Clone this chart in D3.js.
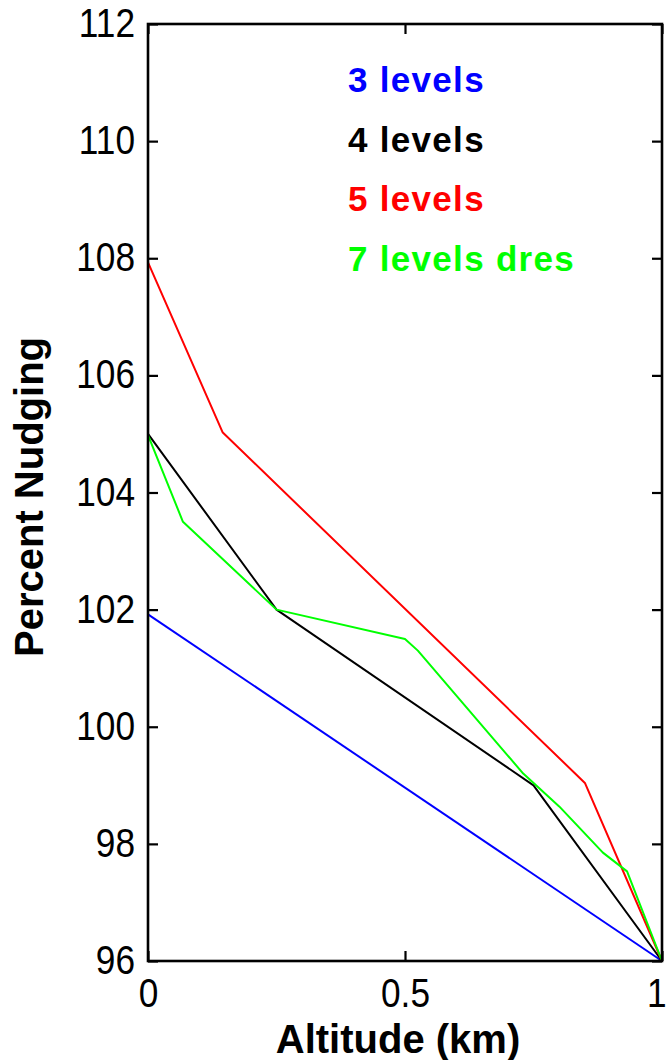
<!DOCTYPE html>
<html>
<head>
<meta charset="utf-8">
<script src="https://cdn.jsdelivr.net/npm/d3@7"></script>
<style>
  html, body { margin: 0; padding: 0; background: #fff; }
  svg { display: block; }
</style>
</head>
<body>
<svg id="chart" width="667" height="1060"></svg>
<script>
// Altitude (km) along x, percent nudging along y, one polyline per setup
const seriesNames = ["3 levels", "4 levels", "5 levels", "7 levels dres"];
const seriesColors = ["#0000ff", "#000000", "#ff0000", "#00ff00"];

const alt3 = [0, 1];
const nudge3 = [101.92, 96];

const alt4 = [0, 0.25, 0.75, 1];
const nudge4 = [105, 102, 99, 96];

const alt5 = [0, 0.145, 0.85, 1];
const nudge5 = [107.93, 105.03, 99.04, 96];

const alt7 = [0, 0.068, 0.25, 0.5, 0.525, 0.73, 0.8, 0.885, 0.932, 1];
const nudge7 = [104.98, 103.5, 102, 101.5, 101.3, 99.2, 98.64, 97.85, 97.53, 96];

const xTicks = [0, 0.5, 1];
const xTickLabels = ["0", "0.5", "1"];
const yTicks = [96, 98, 100, 102, 104, 106, 108, 110, 112];

const xLabel = "Altitude (km)";
const yLabel = "Percent Nudging";

const series = [
  { name: seriesNames[0], color: seriesColors[0], xs: alt3, ys: nudge3 },
  { name: seriesNames[1], color: seriesColors[1], xs: alt4, ys: nudge4 },
  { name: seriesNames[2], color: seriesColors[2], xs: alt5, ys: nudge5 },
  { name: seriesNames[3], color: seriesColors[3], xs: alt7, ys: nudge7 }
];

const svg = d3.select("#chart");
const plotLeft = 148, plotRight = 662, plotTop = 24, plotBottom = 961;

const x = d3.scaleLinear().domain([0, 1]).range([plotLeft, plotRight]);
const y = d3.scaleLinear().domain([96, 112]).range([plotBottom, plotTop]);

const tickFont = "'Liberation Sans', Arial, sans-serif";
const boldFont = "'Liberation Sans', Arial, sans-serif";
const squeeze = 0.86; // tick numerals are set slightly condensed

// data lines, drawn first so the frame sits on top
const line = d3.line().x(d => x(d[0])).y(d => y(d[1]));
svg.append("g")
  .selectAll("path")
  .data(series)
  .join("path")
  .attr("d", s => line(s.xs.map((v, i) => [v, s.ys[i]])))
  .attr("fill", "none")
  .attr("stroke", s => s.color)
  .attr("stroke-width", 2)
  .attr("stroke-linejoin", "round");

// axes with inward ticks on all four sides
const tickLen = 10;
function styleAxis(g) {
  g.select(".domain").remove();
  g.selectAll(".tick line").attr("stroke", "#000").attr("stroke-width", 2.2);
}

svg.append("g")
  .attr("transform", `translate(0,${plotBottom})`)
  .call(d3.axisBottom(x).tickValues(xTicks).tickSize(-tickLen).tickFormat((d, i) => xTickLabels[i]))
  .call(styleAxis)
  .call(g => g.selectAll(".tick text")
    .attr("x", 0).attr("y", 46).attr("dy", 0)
    .attr("transform", `scale(${squeeze},1)`)
    .attr("font-family", tickFont).attr("font-size", 41).attr("fill", "#000"))
  // the last label is right-aligned so it stays inside the page edge
  .call(g => g.selectAll(".tick text").filter(d => d === 1)
    .attr("text-anchor", "end")
    .attr("x", 4 / squeeze));

svg.append("g")
  .attr("transform", `translate(0,${plotTop})`)
  .call(d3.axisTop(x).tickValues(xTicks).tickSize(-tickLen).tickFormat(""))
  .call(styleAxis);

svg.append("g")
  .attr("transform", `translate(${plotLeft},0)`)
  .call(d3.axisLeft(y).tickValues(yTicks).tickSize(-tickLen).tickFormat(d3.format("d")))
  .call(styleAxis)
  .call(g => g.selectAll(".tick text")
    .attr("x", -13 / squeeze).attr("dy", 12.5)
    .attr("transform", `scale(${squeeze},1)`)
    .attr("font-family", tickFont).attr("font-size", 41).attr("fill", "#000"));

svg.append("g")
  .attr("transform", `translate(${plotRight},0)`)
  .call(d3.axisRight(y).tickValues(yTicks).tickSize(-tickLen).tickFormat(""))
  .call(styleAxis);

// plot frame
svg.append("rect")
  .attr("x", plotLeft).attr("y", plotTop)
  .attr("width", plotRight - plotLeft).attr("height", plotBottom - plotTop)
  .attr("fill", "none").attr("stroke", "#000").attr("stroke-width", 2.6);

// axis titles
svg.append("text")
  .attr("x", 398).attr("y", 1053)
  .attr("text-anchor", "middle")
  .attr("font-family", boldFont).attr("font-weight", "bold").attr("font-size", 40)
  .attr("fill", "#000")
  .text(xLabel);

svg.append("text")
  .attr("transform", "translate(43,497) rotate(-90)")
  .attr("text-anchor", "middle")
  .attr("font-family", boldFont).attr("font-weight", "bold").attr("font-size", 40)
  .attr("fill", "#000")
  .text(yLabel);

// legend as coloured text entries
svg.append("g")
  .selectAll("text")
  .data(series)
  .join("text")
  .attr("x", 348)
  .attr("y", (d, i) => 92 + i * 59.5)
  .attr("font-family", boldFont).attr("font-weight", "bold").attr("font-size", 35)
  .attr("letter-spacing", 1.3)
  .attr("fill", d => d.color)
  .text(d => d.name);
</script>
</body>
</html>
